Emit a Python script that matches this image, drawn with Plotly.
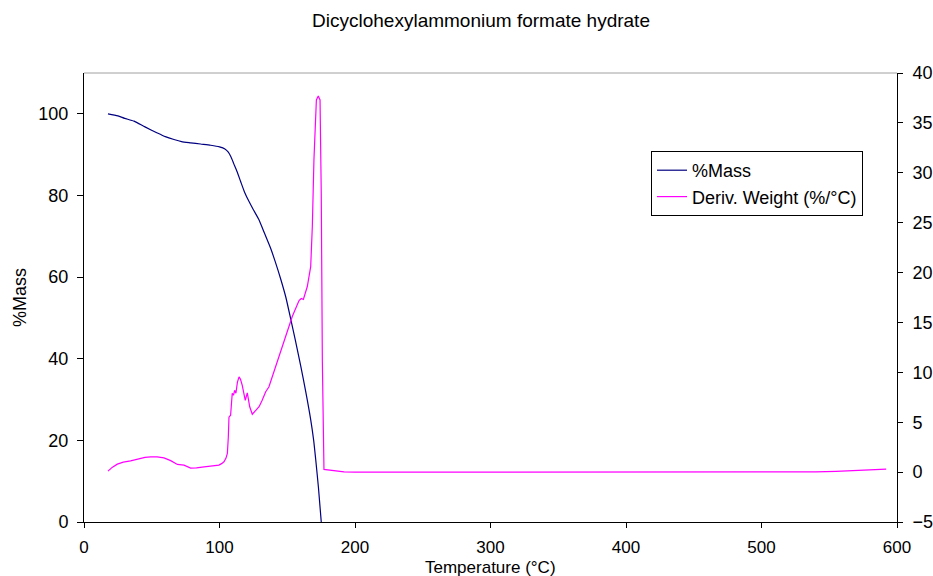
import plotly.graph_objects as go

title_text = "Dicyclohexylammonium formate hydrate"

# %Mass curve
mass_temp = [17.7, 25, 30, 36.9, 45, 54.1, 60, 66.4, 72, 78.7, 86, 93.5, 100, 104,
             106.5, 108.5, 110.5, 113, 115.6, 118.5, 121.8, 125, 129.2, 133, 137.8, 141,
             145.1, 149, 152.5, 156, 159.9, 163.5, 167.3, 169.5, 171.0, 173, 175.1]
mass_val = [100.0, 99.5, 98.9, 98.2, 96.8, 95.3, 94.4, 93.7, 93.2, 92.9, 92.6, 92.3,
            91.9, 91.4, 90.6, 89.4, 87.8, 85.8, 83.4, 80.8, 78.5, 76.5, 74.0, 70.9, 67.0,
            63.9, 59.6, 55.0, 49.8, 44.5, 38.3, 32.2, 25.1, 20.0, 15.3, 8.5, 0.0]

# Derivative weight curve
deriv_temp = [17.7, 21, 24.6, 29, 34.4, 40, 45, 49.2, 54, 59.0, 64, 68.9, 73.8, 78.7,
              83, 88.6, 94, 99.6, 101.5, 103.3, 104.8, 105.8, 106.5, 107.0, 108.2,
              109.4, 110.3, 111.2, 112.1, 113.2, 114.4, 115.5, 116.8, 118, 119.0, 120.5,
              121.3, 122.3, 124.2, 126.5, 129.2, 131.5, 134.1, 136.5, 139.5, 142.7,
              147.6, 153.7, 158.7, 160.3, 161.9, 164.8, 167.3, 168.5, 169.7, 170.7,
              171.5, 172.9, 174.2, 175.1, 175.9, 177.1, 181, 186, 191.9, 200, 250,
              300, 350, 400, 450, 500, 540, 555, 570, 580, 592]
deriv_val = [0.1, 0.5, 0.8, 1.0, 1.13, 1.35, 1.48, 1.53, 1.52, 1.43, 1.15, 0.77, 0.7,
             0.4, 0.42, 0.53, 0.6, 0.7, 0.85, 1.03, 1.4, 1.87, 3.5, 5.5, 5.7, 7.9, 7.7,
             8.2, 7.9, 9.0, 9.55, 9.3, 8.7, 7.8, 7.2, 7.95, 7.4, 6.55, 5.8, 6.1, 6.55,
             7.2, 8.05, 8.55, 9.8, 11.2, 13.2, 15.6, 17.2, 17.4, 17.3, 18.6, 20.6, 24.6,
             31.3, 36.0, 37.3, 37.7, 37.3, 27.9, 11.2, 0.27, 0.2, 0.08, 0.02, 0.0, 0.0,
             0.0, 0.0, 0.0, 0.0, 0.0, 0.02, 0.08, 0.15, 0.2, 0.3]

x_ticks = [0, 100, 200, 300, 400, 500, 600]
y_ticks = [0, 20, 40, 60, 80, 100]
y2_ticks = [-5, 0, 5, 10, 15, 20, 25, 30, 35, 40]

FONT = "Liberation Sans, Arial, sans-serif"
FS = 18

fig = go.Figure()
fig.add_trace(go.Scatter(x=mass_temp, y=mass_val, mode="lines", name="%Mass",
                         line=dict(color="#000080", width=1.2, shape="spline", smoothing=0.6)))
fig.add_trace(go.Scatter(x=deriv_temp, y=deriv_val, mode="lines", name="Deriv. Weight (%/°C)",
                         yaxis="y2", line=dict(color="#FF00FF", width=1.2)))

fig.update_layout(
    width=933, height=576,
    margin=dict(l=84, r=36, t=73, b=54, autoexpand=False),
    paper_bgcolor="white", plot_bgcolor="white",
    font=dict(family=FONT, size=FS, color="black"),
    title=dict(text=title_text, x=481/933, xanchor="center", y=1-20/576, yanchor="middle",
               yref="container", xref="container", font=dict(size=19)),
    xaxis=dict(range=[0, 600], tickvals=x_ticks, ticks="outside", ticklen=5,
               tickcolor="black", showline=True, linecolor="black", linewidth=1,
               showgrid=False, zeroline=False, ticklabelstandoff=5, automargin=False,
               tickfont=dict(size=17)),
    yaxis=dict(range=[0, 110], tickvals=y_ticks, ticks="outside", ticklen=6,
               tickcolor="black", showline=True, linecolor="black", linewidth=1,
               showgrid=False, zeroline=False, ticklabelstandoff=5, automargin=False),
    yaxis2=dict(range=[-5, 40], tickvals=y2_ticks, ticks="outside", ticklen=5,
                tickcolor="black", showline=True, linecolor="black", linewidth=1,
                showgrid=False, zeroline=False, overlaying="y", side="right",
                ticklabelstandoff=6, automargin=False),
    legend=dict(x=(651-84)/813, y=(522-151)/449, xanchor="left", yanchor="top",
                bordercolor="black", borderwidth=1, bgcolor="white",
                font=dict(size=FS), tracegroupgap=0, itemwidth=30),
    showlegend=True,
    annotations=[
        dict(text="Temperature (°C)", xref="paper", yref="paper",
             x=(490-84)/813, y=(522-567)/449, xanchor="center", yanchor="middle",
             showarrow=False, font=dict(size=17)),
        dict(text="%Mass", xref="paper", yref="paper",
             x=(20-84)/813, y=(522-298)/449, xanchor="center", yanchor="middle",
             textangle=-90, showarrow=False, font=dict(size=FS)),
    ],
)
fig.add_shape(type="line", xref="paper", yref="paper", x0=0, x1=1, y0=1, y1=1,
              line=dict(color="#A0A0A0", width=1))

fig.write_html("out.html", post_script="document.body.style.margin='0';",
               config={"displayModeBar": False})
